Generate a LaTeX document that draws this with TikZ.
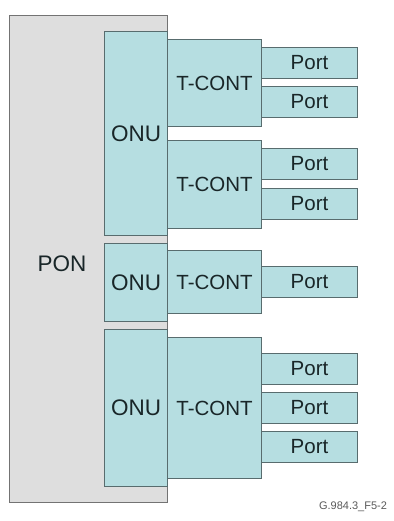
\documentclass[tikz,border=0pt]{standalone}
\usepackage{fontspec}
\setmainfont{Liberation Sans}
\usepackage{tikz}
\usetikzlibrary{positioning}

\definecolor{cellfill}{RGB}{182,222,225}
\definecolor{celledge}{RGB}{88,108,110}
\definecolor{ponfill}{RGB}{222,222,222}
\definecolor{ponedge}{RGB}{115,115,115}
\definecolor{inktext}{RGB}{25,38,40}

\tikzset{
    cell/.style={draw=celledge, fill=cellfill, line width=1pt, inner sep=0pt,
        anchor=north west, text=inktext, font=\fontsize{20.5}{24}\selectfont},
    onubox/.style={cell, minimum width=63pt, font=\fontsize{22.5}{26}\selectfont},
    portbox/.style={cell, minimum width=96pt, minimum height=31pt}
}

\begin{document}
\begin{tikzpicture}[x=1pt,y=-1pt]

        \useasboundingbox (0,0) rectangle (393,521);

        % PON block
        \node[draw=ponedge, fill=ponfill, line width=1pt, anchor=north west,
            minimum width=158pt, minimum height=487pt] (pon) at (9,15) {};
        \node[font=\fontsize{22.5}{26}\selectfont, text=inktext] (ponlabel) at (62,264) {PON};

        % ONUs
        \node[onubox, minimum height=204pt] (onu1) at (104,31) {ONU};
        \node[onubox, minimum height=78pt] (onu2) at (104,243) {ONU};
        \node[onubox, minimum height=157pt] (onu3) at (104,329) {ONU};

        % T-CONTs
        \node[cell, minimum width=94pt, minimum height=87pt] (tc1) at (167,39) {T-CONT};
        \node[cell, minimum width=94pt, minimum height=88pt] (tc2) at (167,140) {T-CONT};
        \node[cell, minimum width=94pt, minimum height=63pt] (tc3) at (167,250) {T-CONT};
        \node[cell, minimum width=94pt, minimum height=141pt] (tc4) at (167,337) {T-CONT};

        % Ports
        \node[portbox] (p1) at (261,47) {Port};
        \node[portbox] (p2) at (261,86) {Port};
        \node[portbox] (p3) at (261,148) {Port};
        \node[portbox] (p4) at (261,188) {Port};
        \node[portbox] (p5) at (261,266) {Port};
        \node[portbox] (p6) at (261,353) {Port};
        \node[portbox] (p7) at (261,392) {Port};
        \node[portbox] (p8) at (261,431) {Port};

        % Figure tag
        \node[font=\fontsize{11}{13}\selectfont, text=black!65] (figtag) at (353,507) {G.984.3\_F5-2};

    \end{tikzpicture}
\end{document}
